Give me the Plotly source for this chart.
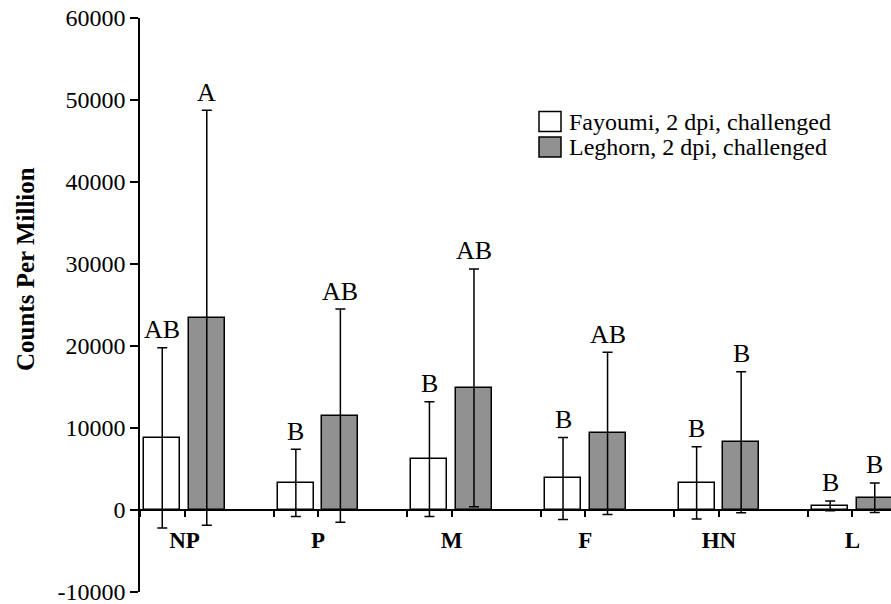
import plotly.graph_objects as go

# Viral gene segments
categories = ["NP", "P", "M", "F", "HN", "L"]

# Mean counts per million and standard deviations
fayoumi_mean = [8800, 3300, 6200, 3850, 3300, 500]
fayoumi_sd = [11000, 4100, 7000, 5000, 4400, 600]
leghorn_mean = [23450, 11500, 14900, 9350, 8250, 1500]
leghorn_sd = [25300, 13000, 14500, 9900, 8600, 1800]

# Significance letters
fayoumi_letters = ["AB", "B", "B", "B", "B", "B"]
leghorn_letters = ["A", "AB", "AB", "AB", "B", "B"]

series_names = ["Fayoumi, 2 dpi, challenged", "Leghorn, 2 dpi, challenged"]

y_ticks = [-10000, 0, 10000, 20000, 30000, 40000, 50000, 60000]
y_tick_text = [str(v) for v in y_ticks]

FONT = "Liberation Serif"
GRAY = "#919191"

W, H = 891, 604
L_M, R_M, T_M, B_M = 140, 0, 18, 12
PW, PH = W - L_M - R_M, H - T_M - B_M
SLOT = 44.53  # px per category slot (three slots per segment)


def px_x(px):
    return (px - L_M) / PW


def px_y(py):
    return (H - B_M - py) / PH


# each segment occupies three slots: Fayoumi, Leghorn, gap
x_fay = [3 * i + 0.5 for i in range(len(categories))]
x_leg = [3 * i + 1.5 for i in range(len(categories))]
bar_w = 36 / SLOT

fig = go.Figure()
fig.add_trace(go.Bar(
    x=x_fay, y=fayoumi_mean, width=bar_w, name=series_names[0],
    marker=dict(color="white", line=dict(color="black", width=1.5)),
    error_y=dict(type="data", array=fayoumi_sd, symmetric=True,
                 color="black", thickness=1.5, width=5),
    showlegend=False,
))
fig.add_trace(go.Bar(
    x=x_leg, y=leghorn_mean, width=bar_w, name=series_names[1],
    marker=dict(color=GRAY, line=dict(color="black", width=1.5)),
    error_y=dict(type="data", array=leghorn_sd, symmetric=True,
                 color="black", thickness=1.5, width=5),
    showlegend=False,
))

# letters above error bars
for xs, means, sds, letters in [(x_fay, fayoumi_mean, fayoumi_sd, fayoumi_letters),
                                 (x_leg, leghorn_mean, leghorn_sd, leghorn_letters)]:
    for x, m, s, t in zip(xs, means, sds, letters):
        fig.add_annotation(x=x, y=m + s, text=t, showarrow=False,
                           xanchor="center", yanchor="middle", yshift=18,
                           font=dict(family=FONT, size=26, color="black"))

# x ticks at the left and right edge of each segment's first slot
x_tickvals, x_ticktext = [], []
for i, c in enumerate(categories):
    x_tickvals += [3 * i, 3 * i + 1]
    x_ticktext += ["", c]

x_max = PW / SLOT

fig.update_layout(
    width=W, height=H, autosize=False,
    margin=dict(l=L_M, r=R_M, t=T_M, b=B_M, pad=0),
    paper_bgcolor="white", plot_bgcolor="white",
    bargap=0, barmode="overlay",
    font=dict(family=FONT, color="black"),
    xaxis=dict(
        range=[0, x_max], anchor="free", position=1 / 7,
        tickmode="array", tickvals=x_tickvals, ticktext=x_ticktext,
        ticks="outside", ticklen=6, tickwidth=1.5, tickcolor="black",
        showline=True, linecolor="black", linewidth=1.5,
        showgrid=False, zeroline=False,
        tickfont=dict(family=FONT, size=23, color="black", weight="bold"),
        ticklabelstandoff=4,
    ),
    yaxis=dict(
        range=[-10000, 60000],
        tickmode="array", tickvals=y_ticks, ticktext=y_tick_text,
        ticks="outside", ticklen=8, tickwidth=1.5, tickcolor="black",
        showline=True, linecolor="black", linewidth=1.5,
        showgrid=False, zeroline=False,
        tickfont=dict(family=FONT, size=24, color="black"),
        ticklabeloverflow="allow",
    ),
)

# y-axis title
fig.add_annotation(x=px_x(25), y=px_y(269), xref="paper", yref="paper",
                   text="<b>Counts Per Million</b>", textangle=-90, showarrow=False,
                   xanchor="center", yanchor="middle",
                   font=dict(family=FONT, size=25, color="black"))

# legend
legend_rows = [(121.5, "white"), (147, GRAY)]
for (cy, fill), name in zip(legend_rows, series_names):
    fig.add_shape(type="rect", xref="paper", yref="paper",
                  x0=px_x(539), x1=px_x(561), y0=px_y(cy + 10), y1=px_y(cy - 10),
                  fillcolor=fill, line=dict(color="black", width=1.5))
    fig.add_annotation(x=px_x(567), y=px_y(cy), xref="paper", yref="paper",
                       text=name, showarrow=False, xanchor="left", yanchor="middle",
                       font=dict(family=FONT, size=24, color="black"))

fig.write_html("out.html")
